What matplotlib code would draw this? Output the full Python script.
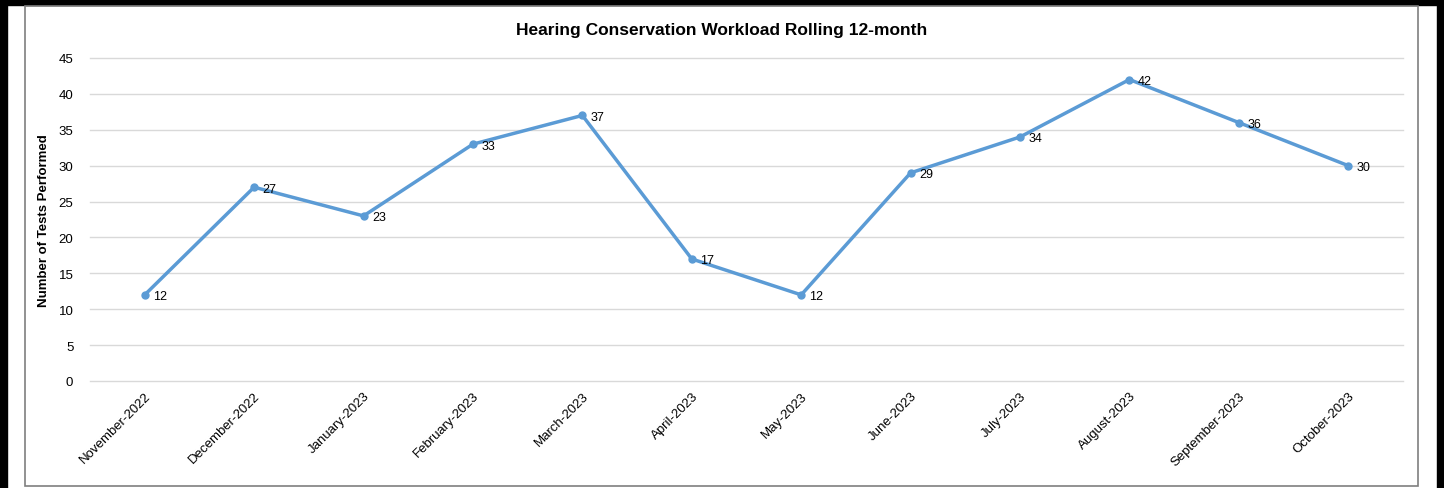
import matplotlib.pyplot as plt
from matplotlib.patches import Rectangle

# dados
meses = ['November-2022', 'December-2022', 'January-2023', 'February-2023',
         'March-2023', 'April-2023', 'May-2023', 'June-2023', 'July-2023',
         'August-2023', 'September-2023', 'October-2023']
testes = [12, 27, 23, 33, 37, 17, 12, 29, 34, 42, 36, 30]

plt.rcParams['font.family'] = ['Liberation Sans', 'DejaVu Sans']

fig = plt.figure(figsize=(14.44, 4.89), dpi=100)

# bordas externas (preta) e moldura do gráfico (cinza)
fig.patches.append(Rectangle((0, 0), 7 / 1444, 1, transform=fig.transFigure,
                             color='black', zorder=0))
fig.patches.append(Rectangle((0, 1 - 6 / 489), 1, 6 / 489, transform=fig.transFigure,
                             color='black', zorder=0))
fig.patches.append(Rectangle((1 - 7 / 1444, 0), 7 / 1444, 1, transform=fig.transFigure,
                             color='black', zorder=0))
fig.patches.append(Rectangle((25 / 1444, 2 / 489), 1393 / 1444, 480 / 489,
                             transform=fig.transFigure, fill=False,
                             edgecolor='#7F7F7F', linewidth=1.2, zorder=0))

ax = fig.add_axes([90 / 1444, 1 - 382 / 489, 1313 / 1444, 323 / 489])
x = list(range(len(meses)))
ax.plot(x, testes, color='#5B9BD5', linewidth=2.5, marker='o', markersize=5,
        markerfacecolor='#5B9BD5', markeredgecolor='#5B9BD5', zorder=3)

for xi, v in zip(x, testes):
    ax.annotate(str(v), (xi, v), xytext=(6, -1), textcoords='offset points',
                ha='left', va='center', fontsize=9, color='black')

ax.set_xlim(-0.5, len(meses) - 0.5)
ax.set_ylim(0, 45)
ax.set_yticks(range(0, 50, 5))
ax.set_xticks(x)
ax.set_xticklabels(meses, rotation=45, ha='right', rotation_mode='anchor', fontsize=9.5)
ax.tick_params(axis='y', labelsize=9.5, length=0, pad=12)
ax.tick_params(axis='x', length=0, pad=6)
ax.grid(axis='y', color='#D9D9D9', linewidth=1)
for gl in ax.get_ygridlines():
    gl.set_clip_on(False)
ax.set_axisbelow(True)
for s in ax.spines.values():
    s.set_visible(False)

ax.set_ylabel('Number of Tests Performed', fontsize=9.5, fontweight='bold', labelpad=6)
fig.text(0.5, 1 - 31 / 489, 'Hearing Conservation Workload Rolling 12-month',
         ha='center', va='center', fontsize=12.5, fontweight='bold')

fig.savefig('out.png', dpi=100)
